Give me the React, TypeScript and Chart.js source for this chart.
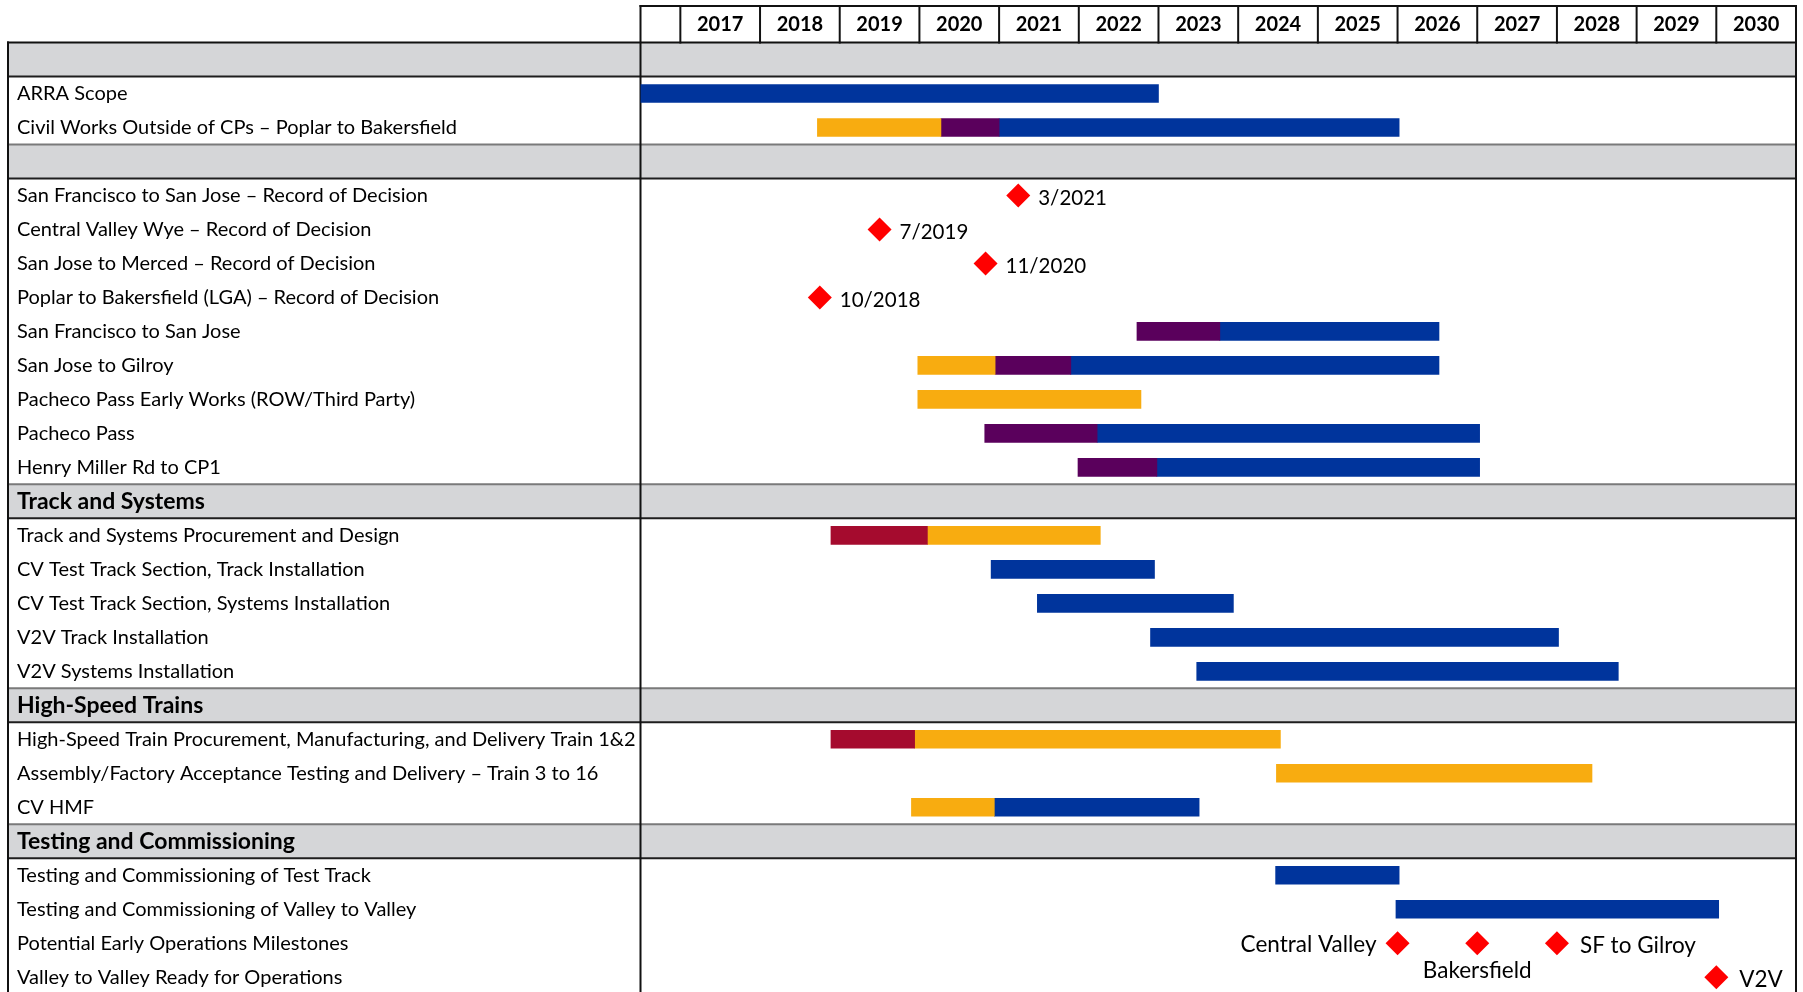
import React, { useEffect, useRef } from 'react';
import { Chart, registerables } from 'chart.js';

Chart.register(...registerables);

// ---------- data ----------
const YEARS = [2017, 2018, 2019, 2020, 2021, 2022, 2023, 2024, 2025, 2026, 2027, 2028, 2029, 2030];
const X_MIN = 2016.5;
const X_MAX = 2031;

const SECTION_TITLES = ['', '', 'Track and Systems', 'High-Speed Trains', 'Testing and Commissioning'];

const SECTION_1_TASKS = ['ARRA Scope', 'Civil Works Outside of CPs – Poplar to Bakersfield'];
const SECTION_2_TASKS = [
  'San Francisco to San Jose – Record of Decision',
  'Central Valley Wye – Record of Decision',
  'San Jose to Merced – Record of Decision',
  'Poplar to Bakersfield (LGA) – Record of Decision',
  'San Francisco to San Jose',
  'San Jose to Gilroy',
  'Pacheco Pass Early Works (ROW/Third Party)',
  'Pacheco Pass',
  'Henry Miller Rd to CP1',
];
const SECTION_3_TASKS = [
  'Track and Systems Procurement and Design',
  'CV Test Track Section, Track Installation',
  'CV Test Track Section, Systems Installation',
  'V2V Track Installation',
  'V2V Systems Installation',
];
const SECTION_4_TASKS = [
  'High-Speed Train Procurement, Manufacturing, and Delivery Train 1&2',
  'Assembly/Factory Acceptance Testing and Delivery – Train 3 to 16',
  'CV HMF',
];
const SECTION_5_TASKS = [
  'Testing and Commissioning of Test Track',
  'Testing and Commissioning of Valley to Valley',
  'Potential Early Operations Milestones',
  'Valley to Valley Ready for Operations',
];

// [task, start, end]
const PROCUREMENT_BARS: [string, number, number][] = [
  ['Track and Systems Procurement and Design', 2018.89, 2020.1],
  ['High-Speed Train Procurement, Manufacturing, and Delivery Train 1&2', 2018.89, 2019.94],
];
const DESIGN_BARS: [string, number, number][] = [
  ['Civil Works Outside of CPs – Poplar to Bakersfield', 2018.72, 2020.27],
  ['San Jose to Gilroy', 2019.98, 2020.95],
  ['Pacheco Pass Early Works (ROW/Third Party)', 2019.98, 2022.78],
  ['Track and Systems Procurement and Design', 2020.1, 2022.27],
  ['High-Speed Train Procurement, Manufacturing, and Delivery Train 1&2', 2019.94, 2024.53],
  ['Assembly/Factory Acceptance Testing and Delivery – Train 3 to 16', 2024.48, 2028.44],
  ['CV HMF', 2019.9, 2020.94],
];
const PRECONSTRUCTION_BARS: [string, number, number][] = [
  ['Civil Works Outside of CPs – Poplar to Bakersfield', 2020.27, 2021.0],
  ['San Francisco to San Jose', 2022.73, 2023.77],
  ['San Jose to Gilroy', 2020.95, 2021.9],
  ['Pacheco Pass', 2020.82, 2022.23],
  ['Henry Miller Rd to CP1', 2021.99, 2022.98],
];
const CONSTRUCTION_BARS: [string, number, number][] = [
  ['ARRA Scope', 2016.5, 2023.0],
  ['Civil Works Outside of CPs – Poplar to Bakersfield', 2021.0, 2026.02],
  ['San Francisco to San Jose', 2023.77, 2026.52],
  ['San Jose to Gilroy', 2021.9, 2026.52],
  ['Pacheco Pass', 2022.23, 2027.03],
  ['Henry Miller Rd to CP1', 2022.98, 2027.03],
  ['CV Test Track Section, Track Installation', 2020.9, 2022.95],
  ['CV Test Track Section, Systems Installation', 2021.48, 2023.94],
  ['V2V Track Installation', 2022.9, 2028.02],
  ['V2V Systems Installation', 2023.48, 2028.77],
  ['CV HMF', 2020.94, 2023.51],
  ['Testing and Commissioning of Test Track', 2024.47, 2026.02],
  ['Testing and Commissioning of Valley to Valley', 2025.98, 2030.03],
];

const MILESTONE_TASKS = [
  'San Francisco to San Jose – Record of Decision',
  'Central Valley Wye – Record of Decision',
  'San Jose to Merced – Record of Decision',
  'Poplar to Bakersfield (LGA) – Record of Decision',
  'Potential Early Operations Milestones',
  'Potential Early Operations Milestones',
  'Potential Early Operations Milestones',
  'Valley to Valley Ready for Operations',
];
const MILESTONE_DATES = [2021.24, 2019.5, 2020.83, 2018.75, 2026.0, 2027.0, 2028.0, 2030.0];
const MILESTONE_TEXT = ['3/2021', '7/2019', '11/2020', '10/2018', 'Central Valley', 'Bakersfield', 'SF to Gilroy', 'V2V'];

// ---------- derived table ----------
const SECTION_TASKS = [SECTION_1_TASKS, SECTION_2_TASKS, SECTION_3_TASKS, SECTION_4_TASKS, SECTION_5_TASKS];
const ROW_LABELS: string[] = [];
const BAND_ROWS: number[] = [];
SECTION_TASKS.forEach((tasks, s) => {
  BAND_ROWS.push(ROW_LABELS.length);
  ROW_LABELS.push(SECTION_TITLES[s]);
  tasks.forEach((t) => ROW_LABELS.push(t));
});

function toRowData(bars: [string, number, number][]) {
  return ROW_LABELS.map((label, i) => {
    if (BAND_ROWS.includes(i)) return null;
    const b = bars.find((e) => e[0] === label);
    return b ? [b[1], b[2]] : null;
  });
}

// ---------- styles ----------
const FONT = 'Lato';
const TABLE_LEFT = 8;
const LABEL_LEFT = 17;
const LABEL_COL_RIGHT = 640.5;
const EDGE_PAD = 12; // equals the diamond radius, which Chart.js reserves anyway
const CANVAS_W = 1796 + EDGE_PAD;
const CANVAS_H = 996 + EDGE_PAD;
const LABEL_SIDE: Record<string, string> = { 'Central Valley': 'left', Bakersfield: 'below' };

const framePlugin = {
  id: 'ganttFrame',
  beforeDraw(chart: any) {
    const { ctx, chartArea: a, scales } = chart;
    const y = scales.y;
    const half = Math.abs(y.getPixelForValue(1) - y.getPixelForValue(0)) / 2;
    ctx.save();
    ctx.fillStyle = '#D5D6D8';
    BAND_ROWS.forEach((i) => {
      const c = y.getPixelForValue(i);
      ctx.fillRect(TABLE_LEFT, c - half, a.right - TABLE_LEFT, half * 2);
    });
    ctx.restore();
  },
  beforeDatasetsDraw(chart: any) {
    const { ctx, chartArea: a, scales } = chart;
    const x = scales.x;
    const y = scales.y;
    const half = Math.abs(y.getPixelForValue(1) - y.getPixelForValue(0)) / 2;
    const top = x.top;
    const line = (x0: number, y0: number, x1: number, y1: number, color: string, w = 2) => {
      ctx.strokeStyle = color;
      ctx.lineWidth = w;
      ctx.beginPath();
      ctx.moveTo(x0, y0);
      ctx.lineTo(x1, y1);
      ctx.stroke();
    };
    ctx.save();
    ctx.lineCap = 'square';
    BAND_ROWS.forEach((i, k) => {
      const c = y.getPixelForValue(i);
      line(TABLE_LEFT, c - half, a.right, c - half, k === 0 ? '#111111' : '#7A7A7A');
      line(TABLE_LEFT, c + half, a.right, c + half, '#1E1E1E');
    });
    line(a.left, top, a.right, top, '#111111');
    YEARS.forEach((yr) => {
      const px = x.getPixelForValue(yr);
      line(px, top, px, a.top, '#111111');
    });
    line(TABLE_LEFT, a.top, TABLE_LEFT, a.bottom, '#111111');
    line(a.left, top, a.left, a.bottom, '#111111');
    line(a.right, top, a.right, a.bottom, '#111111');
    ctx.restore();
  },
  afterDatasetsDraw(chart: any) {
    const { ctx } = chart;
    const meta = chart.getDatasetMeta(4);
    ctx.save();
    ctx.fillStyle = '#000000';
    ctx.textBaseline = 'alphabetic';
    meta.data.forEach((pt: any, i: number) => {
      const text = MILESTONE_TEXT[i];
      const isDate = /^\d/.test(text);
      ctx.font = `${isDate ? 20.5 : 22.5}px ${FONT}`;
      const side = LABEL_SIDE[text] || 'right';
      if (side === 'right') {
        ctx.textAlign = 'left';
        ctx.fillText(text, pt.x + (isDate ? 20 : 23), pt.y + 10);
      } else if (side === 'left') {
        ctx.textAlign = 'right';
        ctx.fillText(text, pt.x - 21, pt.y + 9);
      } else {
        ctx.textAlign = 'center';
        ctx.fillText(text, pt.x, pt.y + 35);
      }
    });
    ctx.restore();
  },
};

export default function App() {
  const canvasRef = useRef<HTMLCanvasElement | null>(null);

  useEffect(() => {
    if (!canvasRef.current) return;
    const barCommon = { grouped: false, barThickness: 18, borderWidth: 0, borderSkipped: false };
    const chart = new Chart(canvasRef.current, {
      type: 'bar',
      data: {
        labels: ROW_LABELS,
        datasets: [
          { ...barCommon, label: 'Procurement', data: toRowData(PROCUREMENT_BARS) as any, backgroundColor: '#A50B2E' },
          { ...barCommon, label: 'Design / Early Works', data: toRowData(DESIGN_BARS) as any, backgroundColor: '#F8AC10' },
          { ...barCommon, label: 'Pre-Construction', data: toRowData(PRECONSTRUCTION_BARS) as any, backgroundColor: '#5A005C' },
          { ...barCommon, label: 'Construction', data: toRowData(CONSTRUCTION_BARS) as any, backgroundColor: '#00349C' },
          {
            type: 'scatter',
            label: 'Milestones',
            data: MILESTONE_TASKS.map((t, i) => ({ x: MILESTONE_DATES[i], y: t })) as any,
            pointStyle: 'rectRot',
            pointRadius: 12,
            pointHoverRadius: 12,
            backgroundColor: '#FF0000',
            borderWidth: 0,
          } as any,
        ],
      },
      options: {
        indexAxis: 'y',
        animation: false,
        responsive: false,
        devicePixelRatio: 1,
        events: [],
        layout: { padding: { left: LABEL_LEFT, right: EDGE_PAD, top: 6, bottom: EDGE_PAD } },
        plugins: { legend: { display: false }, tooltip: { enabled: false } },
        scales: {
          x: {
            type: 'linear',
            position: 'top',
            min: X_MIN,
            max: X_MAX,
            grid: { display: false, drawTicks: false },
            border: { display: false },
            afterBuildTicks: (scale: any) => {
              scale.ticks = YEARS.map((yr) => ({ value: yr + 0.5 }));
            },
            afterFit: (scale: any) => {
              scale.height = 36.5;
            },
            ticks: {
              autoSkip: false,
              maxRotation: 0,
              padding: 5.5,
              color: '#000000',
              font: { family: FONT, size: 20, weight: 'bold' },
              callback: (_v: any, i: number) => String(YEARS[i]),
            },
          },
          y: {
            type: 'category',
            offset: true,
            grid: { display: false, drawTicks: false },
            border: { display: false },
            afterFit: (scale: any) => {
              scale.width = LABEL_COL_RIGHT - LABEL_LEFT;
            },
            ticks: {
              autoSkip: false,
              crossAlign: 'far',
              padding: 0,
              color: '#000000',
              font: (ctx: any) =>
                BAND_ROWS.includes(ctx.index)
                  ? { family: FONT, size: 23, weight: 'bold' }
                  : { family: FONT, size: 20, weight: 'normal' },
            },
          },
        },
      } as any,
      plugins: [framePlugin],
    });
    return () => chart.destroy();
  }, []);

  return (
    <div
      style={{
        position: 'fixed',
        left: 0,
        top: 0,
        width: 1803,
        height: 992,
        overflow: 'hidden',
        background: '#ffffff',
      }}
    >
      <canvas ref={canvasRef} width={CANVAS_W} height={CANVAS_H} style={{ display: 'block' }} />
    </div>
  );
}
